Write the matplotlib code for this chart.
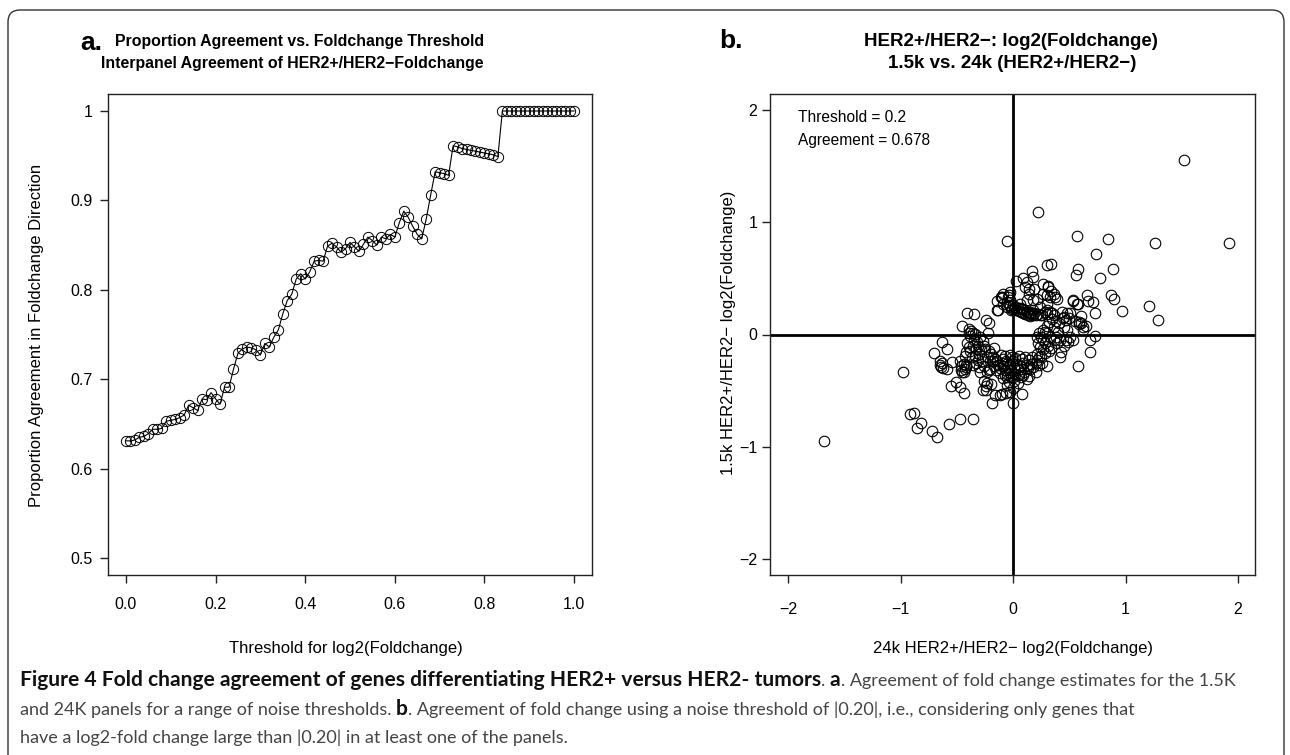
import numpy as np
import matplotlib
matplotlib.use("Agg")
import matplotlib.pyplot as plt
from matplotlib.transforms import Affine2D
from matplotlib.path import Path
from matplotlib.patches import PathPatch

# ---------------- data: panel a ----------------
threshold = [0.00, 0.01, 0.02, 0.03, 0.04, 0.05, 0.06, 0.07, 0.08, 0.09,
             0.10, 0.11, 0.12, 0.13, 0.14, 0.15, 0.16, 0.17, 0.18, 0.19,
             0.20, 0.21, 0.22, 0.23, 0.24, 0.25, 0.26, 0.27, 0.28, 0.29,
             0.30, 0.31, 0.32, 0.33, 0.34, 0.35, 0.36, 0.37, 0.38, 0.39,
             0.40, 0.41, 0.42, 0.43, 0.44, 0.45, 0.46, 0.47, 0.48, 0.49,
             0.50, 0.51, 0.52, 0.53, 0.54, 0.55, 0.56, 0.57, 0.58, 0.59,
             0.60, 0.61, 0.62, 0.63, 0.64, 0.65, 0.66, 0.67, 0.68, 0.69,
             0.70, 0.71, 0.72, 0.73, 0.74, 0.75, 0.76, 0.77, 0.78, 0.79,
             0.80, 0.81, 0.82, 0.83, 0.84, 0.85, 0.86, 0.87, 0.88, 0.89,
             0.90, 0.91, 0.92, 0.93, 0.94, 0.95, 0.96, 0.97, 0.98, 0.99,
             1.00]
agreement = [0.631, 0.631, 0.632, 0.635, 0.636, 0.639, 0.644, 0.644, 0.645, 0.653,
             0.654, 0.655, 0.657, 0.660, 0.671, 0.668, 0.665, 0.678, 0.677, 0.685,
             0.678, 0.672, 0.691, 0.691, 0.711, 0.729, 0.734, 0.736, 0.735, 0.733,
             0.727, 0.740, 0.736, 0.747, 0.755, 0.773, 0.788, 0.795, 0.812, 0.818,
             0.812, 0.820, 0.832, 0.833, 0.832, 0.849, 0.852, 0.848, 0.842, 0.846,
             0.853, 0.848, 0.843, 0.851, 0.859, 0.855, 0.850, 0.859, 0.857, 0.862,
             0.859, 0.875, 0.888, 0.881, 0.871, 0.862, 0.857, 0.879, 0.906, 0.932,
             0.931, 0.930, 0.928, 0.961, 0.960, 0.958, 0.957, 0.956, 0.955, 0.954,
             0.953, 0.952, 0.951, 0.949, 1.000, 1.000, 1.000, 1.000, 1.000, 1.000,
             1.000, 1.000, 1.000, 1.000, 1.000, 1.000, 1.000, 1.000, 1.000, 1.000,
             1.000]
a_xticks = [0.0, 0.2, 0.4, 0.6, 0.8, 1.0]
a_xticklabels = ["0.0", "0.2", "0.4", "0.6", "0.8", "1.0"]
a_yticks = [0.5, 0.6, 0.7, 0.8, 0.9, 1.0]
a_yticklabels = ["0.5", "0.6", "0.7", "0.8", "0.9", "1"]

# ---------------- data: panel b (24k vs 1.5k log2 fold change) ----------------
x_24k = [
    -1.68, -0.98, -0.92, -0.88, -0.85, -0.82, -0.72, -0.68, -0.565, -0.475,
    -0.355, -0.55, -0.51, -0.475, -0.44, -0.635, -0.70, -0.59, -0.65, -0.63,
    -0.64, -0.59, -0.65, -0.625, -0.54, -0.47, -0.46, -0.45, -0.44, -0.42,
    -0.43, -0.465, -0.44, -0.42, -0.45, -0.41, -0.35, -0.39, -0.37, -0.38,
    -0.355, -0.335, -0.395, -0.24, -0.21, -0.22, -0.26, -0.24, -0.23, -0.27,
    -0.24, -0.20, -0.19, -0.16, -0.12, -0.10, -0.06, -0.03, 0.0, 0.08,
    -0.05, 0.22, 1.52, 0.57, 0.84, 1.26, 1.92, 0.735, 0.305, 0.34,
    0.17, 0.18, 0.58, 0.56, 0.886, 0.776, 0.87, 0.90, 0.97, 1.21,
    1.286, 0.66, 0.67, 0.71, 0.53, 0.566, 0.58, 0.73, 0.60, 0.55,
    0.59, 0.62, 0.59, 0.73, 0.68, 0.68, 0.58, 0.305, 0.62, 0.65,
    0.60, 0.42, 0.43, 0.45, 0.536,
    # upper group
    0.027, 0.09, 0.12, 0.11, 0.145, 0.186, 0.14, 0.264, 0.31, 0.335,
    0.305, 0.376, 0.314, 0.36, -0.027, -0.038, -0.10, -0.14, -0.11, -0.086,
    -0.044, -0.027, -0.09, -0.056, -0.01, -0.098, -0.056, -0.033, -0.015, -0.14,
    -0.13, 0.062, 0.12, 0.18, 0.21, 0.27, 0.33, 0.39,
    # band near y = 0.2
    0.02, 0.04, 0.06, 0.08, 0.10, 0.12, 0.14, 0.16, 0.18, 0.20,
    0.03, 0.05, 0.07, 0.09, 0.11, 0.13, 0.15, 0.22, 0.24, 0.26,
    -0.03, 0.0, 0.01, 0.28, 0.30, 0.33, 0.35, 0.24, 0.30, 0.36,
    0.18, 0.092, 0.15, 0.19, 0.435, 0.48, 0.51, 0.45, 0.38, 0.41,
    0.44, 0.47, 0.50,
    # right group around y = 0
    0.36, 0.33, 0.30, 0.27, 0.234, 0.216, 0.264, 0.22, 0.24, 0.27,
    0.21, 0.25, 0.287, 0.32, 0.39, 0.42, 0.47, 0.49, 0.51, 0.535,
    0.48, 0.45, 0.32, 0.30, 0.36, 0.35, 0.30, 0.18, 0.15, 0.20,
    0.216, 0.234, 0.14, 0.12, 0.044, 0.003, -0.056, 0.07, -0.05, 0.0,
    0.25, 0.28, 0.31, 0.34, 0.26, 0.23, 0.20, 0.28, 0.38, 0.40,
    # central group around (0, -0.3)
    -0.157, -0.14, -0.133, -0.086, -0.092, -0.074, -0.05, -0.027, 0.0, -0.015,
    -0.116, -0.086, -0.05, -0.02, 0.02, 0.05, 0.08, 0.11, 0.14, 0.03,
    0.06, 0.09, 0.12, 0.01, 0.04, 0.07, 0.10, 0.02, 0.05, 0.09,
    -0.01, 0.13, 0.16, 0.17, -0.03, -0.07, -0.11, 0.01, -0.04, -0.17,
    -0.18, -0.12, -0.15, -0.10, -0.06, -0.03, -0.07,
    # left group
    -0.41, -0.39, -0.42, -0.38, -0.35, -0.32, -0.31, -0.287, -0.335, -0.364,
    -0.43, -0.30, -0.25, -0.216, -0.234, -0.20, -0.204, -0.276, -0.258, -0.216,
    -0.305, -0.293, -0.234, -0.204, -0.33, -0.36, -0.31, -0.27, -0.29, -0.26,
    -0.33, -0.36, -0.18, -0.17,
]
y_15k = [
    -0.945, -0.335, -0.71, -0.70, -0.835, -0.79, -0.855, -0.915, -0.80, -0.75,
    -0.755, -0.46, -0.42, -0.47, -0.52, -0.07, -0.165, -0.13, -0.235, -0.25,
    -0.29, -0.31, -0.275, -0.295, -0.245, -0.235, -0.28, -0.33, -0.265, -0.29,
    -0.305, -0.315, -0.335, -0.27, 0.074, 0.19, 0.18, 0.05, 0.027, -0.015,
    0.015, 0.003, 0.015, 0.127, 0.10, 0.01, -0.41, -0.46, -0.43, -0.49,
    -0.49, -0.44, -0.61, -0.54, -0.54, -0.53, -0.52, -0.51, -0.61, -0.53,
    0.83, 1.09, 1.556, 0.877, 0.85, 0.818, 0.815, 0.72, 0.62, 0.63,
    0.565, 0.51, 0.58, 0.527, 0.587, 0.50, 0.355, 0.314, 0.213, 0.258,
    0.127, 0.35, 0.30, 0.29, 0.30, 0.27, 0.27, 0.195, 0.165, 0.12,
    0.09, 0.07, 0.11, -0.01, -0.05, -0.155, -0.276, -0.276, 0.04, 0.074,
    0.10, -0.20, -0.157, -0.10, 0.31,
    # upper group
    0.48, 0.50, 0.47, 0.42, 0.405, 0.405, 0.36, 0.453, 0.43, 0.385,
    0.355, 0.33, 0.423, 0.36, 0.38, 0.35, 0.33, 0.30, 0.335, 0.364,
    0.334, 0.305, 0.275, 0.245, 0.23, 0.323, 0.287, 0.263, 0.222, 0.216,
    0.22, 0.275, 0.305, 0.305, 0.32, 0.36, 0.334, 0.32,
    # band near y = 0.2
    0.245, 0.235, 0.24, 0.225, 0.215, 0.20, 0.19, 0.18, 0.17, 0.175,
    0.22, 0.21, 0.20, 0.195, 0.185, 0.175, 0.165, 0.18, 0.17, 0.175,
    0.25, 0.26, 0.225, 0.20, 0.215, 0.20, 0.19, 0.245, 0.275, 0.17,
    0.216, 0.228, 0.204, 0.19, 0.20, 0.19, 0.19, 0.16, 0.12, 0.10,
    0.15, 0.13, 0.15,
    # right group around y = 0
    -0.05, -0.02, 0.015, 0.04, 0.015, -0.02, -0.045, -0.08, -0.115, -0.133,
    -0.17, -0.187, -0.163, -0.146, -0.08, -0.05, -0.05, -0.07, -0.02, -0.05,
    0.04, 0.07, 0.11, 0.074, 0.07, 0.14, 0.18, -0.29, -0.305, -0.25,
    -0.23, -0.20, -0.365, -0.40, -0.43, -0.48, -0.45, -0.38, -0.377, -0.38,
    -0.02, -0.08, -0.10, -0.12, -0.25, -0.27, -0.33, 0.02, -0.02, 0.02,
    # central group around (0, -0.3)
    -0.216, -0.235, -0.27, -0.222, -0.276, -0.317, -0.293, -0.264, -0.24, -0.317,
    -0.347, -0.388, -0.353, -0.382, -0.21, -0.19, -0.22, -0.20, -0.23, -0.26,
    -0.28, -0.25, -0.27, -0.30, -0.32, -0.31, -0.33, -0.35, -0.36, -0.36,
    -0.20, -0.30, -0.26, -0.20, -0.18, -0.19, -0.185, -0.415, -0.42, -0.28,
    -0.24, -0.30, -0.32, -0.25, -0.24, -0.34, -0.36,
    # left group
    -0.08, -0.115, -0.157, -0.15, -0.05, -0.07, -0.104, -0.128, -0.187, -0.20,
    -0.187, -0.17, -0.133, -0.15, -0.20, -0.17, -0.235, -0.235, -0.28, -0.317,
    -0.293, -0.335, -0.335, -0.305, -0.25, -0.27, -0.23, -0.06, -0.02, -0.10,
    -0.13, -0.10, -0.20, -0.12,
]
assert len(x_24k) == len(y_15k)
b_ticks = [-2, -1, 0, 1, 2]
b_ticklabels = ["\u22122", "\u22121", "0", "1", "2"]
b_threshold = 0.2
b_agreement = 0.678

RFONT = "Liberation Sans"
CAP_FONT = "Lato"
plt.rcParams["font.family"] = [RFONT, "DejaVu Sans"]

W, H = 1290, 755
fig = plt.figure(figsize=(W / 100, H / 100), dpi=100)
fig.patch.set_facecolor("white")
# pixel coordinates of the picture (y downwards)
pix = Affine2D().scale(1 / W, -1 / H).translate(0, 1) + fig.transFigure


def axes_px(left, top, right, bottom):
    return fig.add_axes([left / W, 1 - bottom / H, (right - left) / W, (bottom - top) / H])


def r_style(ax, xpad, ypad):
    for s in ax.spines.values():
        s.set_linewidth(1.0)
        s.set_color("#222222")
    ax.tick_params(direction="out", length=6, width=1.0, color="#222222",
                   labelsize=11.5)
    ax.tick_params(axis="x", pad=xpad)
    ax.tick_params(axis="y", pad=ypad)


# ---------------- panel a ----------------
ax_a = axes_px(108, 94, 592, 575)
ax_a.plot(threshold, agreement, color="black", lw=0.8, marker="o",
          markersize=7.4, markerfacecolor="none", markeredgecolor="black",
          markeredgewidth=0.7)
ax_a.set_xlim(-0.04, 1.04)
ax_a.set_ylim(0.481, 1.019)
ax_a.set_xticks(a_xticks)
ax_a.set_xticklabels(a_xticklabels)
ax_a.set_yticks(a_yticks)
ax_a.set_yticklabels(a_yticklabels)
r_style(ax_a, 9.5, 5)

# ---------------- panel b ----------------
ax_b = axes_px(770, 94, 1255, 575)
ax_b.axhline(0, color="black", lw=2.0)
ax_b.axvline(0, color="black", lw=2.0)
ax_b.plot(x_24k, y_15k, linestyle="none", marker="o", markersize=7.6,
          markerfacecolor="none", markeredgecolor="black", markeredgewidth=0.8)
ax_b.set_xlim(-2.16, 2.15)
ax_b.set_ylim(-2.14, 2.14)
ax_b.set_xticks(b_ticks)
ax_b.set_xticklabels(b_ticklabels)
ax_b.set_yticks(b_ticks)
ax_b.set_yticklabels(b_ticklabels)
r_style(ax_b, 13.5, 3)


# ---------------- panel texts ----------------
def ftext(x, y, s, **kw):
    kw.setdefault("transform", pix)
    return fig.text(x, y, s, **kw)


ftext(91, 50, "a.", fontsize=19, fontweight="bold", ha="center", va="baseline")
ftext(300, 46, "Proportion Agreement vs. Foldchange Threshold", fontsize=11.4,
      fontweight="bold", ha="center", va="baseline")
ftext(292, 68, "Interpanel Agreement of HER2+/HER2\u2212Foldchange", fontsize=11.4,
      fontweight="bold", ha="center", va="baseline")
ftext(37, 335, "Proportion Agreement in Foldchange Direction", fontsize=12,
      rotation=90, ha="center", va="center")
ftext(346, 648, "Threshold for log2(Foldchange)", fontsize=12, ha="center", va="center")

ftext(731, 48, "b.", fontsize=19, fontweight="bold", ha="center", va="baseline")
ftext(1011, 46, "HER2+/HER2\u2212: log2(Foldchange)", fontsize=13.5, fontweight="bold",
      ha="center", va="baseline")
ftext(1012, 68, "1.5k vs. 24k (HER2+/HER2\u2212)", fontsize=13.5, fontweight="bold",
      ha="center", va="baseline")
ftext(729, 333, "1.5k HER2+/HER2\u2212 log2(Foldchange)", fontsize=12, rotation=90,
      ha="center", va="center")
ftext(1013, 648, "24k HER2+/HER2\u2212 log2(Foldchange)", fontsize=12, ha="center",
      va="center")
ftext(798, 117, "Threshold = %s" % b_threshold, fontsize=11.2, ha="left", va="center")
ftext(798, 140, "Agreement = %s" % b_agreement, fontsize=11.2, ha="left", va="center")

# ---------------- frame ----------------
r = 12
verts = [(8, 756), (8, 10 + r), (8, 10), (8 + r, 10), (1284 - r, 10), (1284, 10),
         (1284, 10 + r), (1284, 756)]
codes = [Path.MOVETO, Path.LINETO, Path.CURVE3, Path.CURVE3, Path.LINETO,
         Path.CURVE3, Path.CURVE3, Path.LINETO]
fig.add_artist(PathPatch(Path(verts, codes), transform=pix, facecolor="none",
                         edgecolor="#333333", lw=1.0))

# ---------------- caption ----------------
renderer = fig.canvas.get_renderer()
cap_bold = "Figure 4 Fold change agreement of genes differentiating HER2+ versus HER2- tumors"
cap_lines = [
    [(cap_bold, True, False), (".", False, False), ("a", True, True),
     (". Agreement of fold change estimates for the 1.5K", False, False)],
    [("and 24K panels for a range of noise thresholds.", False, False), ("b", True, True),
     (". Agreement of fold change using a noise threshold of |0.20|, i.e., considering only genes that", False, False)],
    [("have a log2-fold change large than |0.20| in at least one of the panels.", False, False)],
]
cap_y = [686, 715, 743]


def text_width(s, size, bold):
    t = ftext(0, 0, s, fontsize=size, family=CAP_FONT,
              fontweight="bold" if bold else "normal")
    w = t.get_window_extent(renderer).width
    t.remove()
    return w


# bold heading and plain text sized to the widths they take in the caption
size_b = 12 * 795 / text_width(cap_bold, 12, True)
size_n = 12 * 1110 / text_width(cap_lines[1][0][0] + " b" + cap_lines[1][2][0], 12, False)
space = text_width("a a", size_n, False) - text_width("aa", size_n, False)

for line, y in zip(cap_lines, cap_y):
    x = 20
    for txt, bold, gap in line:
        if gap:
            x += space
        t = ftext(x, y, txt, fontsize=size_b if bold else size_n, family=CAP_FONT,
                  fontweight="bold" if bold else "normal",
                  color="#111111" if bold else "#444444", ha="left", va="baseline")
        x += t.get_window_extent(renderer).width

fig.savefig("out.png", dpi=100)
